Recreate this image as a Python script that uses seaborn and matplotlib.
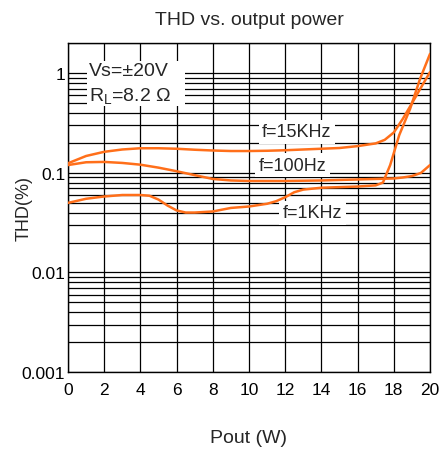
import matplotlib
matplotlib.use("Agg")
import matplotlib.pyplot as plt
from matplotlib.patches import Rectangle
from matplotlib.ticker import LogLocator, FixedLocator, NullFormatter, FixedFormatter
import seaborn as sns
import pandas as pd

# ---- data ----
p_15k = [0, 1, 2, 3, 4, 5, 6, 7, 8, 9, 10, 11, 12, 13, 14, 15, 16, 17, 17.5, 18, 18.5, 19, 19.5, 20]
thd_15k = [0.125, 0.148, 0.163, 0.172, 0.177, 0.177, 0.175, 0.171, 0.168, 0.166, 0.166, 0.167,
           0.169, 0.172, 0.175, 0.178, 0.186, 0.198, 0.215, 0.255, 0.35, 0.5, 0.72, 1.03]

p_100 = [0, 1, 2, 3, 4, 5, 6, 7, 8, 9, 10, 12, 14, 16, 17, 18, 18.5, 19, 19.5, 20]
thd_100 = [0.12, 0.128, 0.129, 0.126, 0.121, 0.113, 0.104, 0.095, 0.087, 0.084, 0.083, 0.083,
           0.084, 0.086, 0.087, 0.088, 0.09, 0.093, 0.1, 0.12]

p_1k = [0, 1, 2, 3, 4, 4.5, 5, 5.5, 6, 6.5, 7, 8, 9, 10, 11, 11.5, 12, 12.5, 13, 14, 15, 16,
        17, 17.4, 17.8, 18.3, 18.9, 19.45, 20]
thd_1k = [0.05, 0.055, 0.058, 0.06, 0.06, 0.059, 0.054, 0.047, 0.042, 0.040, 0.040, 0.041,
          0.0445, 0.046, 0.049, 0.052, 0.057, 0.064, 0.068, 0.071, 0.072, 0.073, 0.075, 0.08,
          0.12, 0.24, 0.44, 0.88, 1.57]

x_ticks = [0, 2, 4, 6, 8, 10, 12, 14, 16, 18, 20]
y_ticks = [0.001, 0.01, 0.1, 1]
y_tick_labels = ["0.001", "0.01", "0.1", "1"]

title = "THD vs. output power"
x_label = "Pout (W)"
y_label = "THD(%)"

df = pd.concat([
    pd.DataFrame({"P": p_15k, "THD": thd_15k, "f": "15KHz"}),
    pd.DataFrame({"P": p_100, "THD": thd_100, "f": "100Hz"}),
    pd.DataFrame({"P": p_1k, "THD": thd_1k, "f": "1KHz"}),
], ignore_index=True)

sns.set_style("white")
plt.rcParams["font.family"] = ["Liberation Sans", "DejaVu Sans"]

fig = plt.figure(figsize=(4.43, 4.52), dpi=100)
ax = fig.add_axes([68 / 443, 1 - 373 / 452, (430 - 68) / 443, (373 - 44) / 452])

orange = "#ff6f1a"
sns.lineplot(data=df, x="P", y="THD", hue="f", palette=[orange] * 3, estimator=None,
             sort=False, legend=False, linewidth=1.8, ax=ax, zorder=5)

ax.set_yscale("log")
ax.set_xlim(0, 20)
ax.set_ylim(0.001, 2.02)

ax.xaxis.set_major_locator(FixedLocator(x_ticks))
ax.yaxis.set_major_locator(FixedLocator(y_ticks))
ax.yaxis.set_major_formatter(FixedFormatter(y_tick_labels))
ax.yaxis.set_minor_locator(LogLocator(base=10, subs=range(2, 10)))
ax.yaxis.set_minor_formatter(NullFormatter())

ax.grid(True, which="major", axis="both", color="black", linewidth=0.9)
ax.grid(True, which="minor", axis="y", color="black", linewidth=0.9)
ax.set_axisbelow(True)
for s in ax.spines.values():
    s.set_color("black")
    s.set_linewidth(1.0)

ax.tick_params(axis="both", which="both", length=0, labelsize=12.5, colors="black")
ax.tick_params(axis="x", pad=7)
ax.tick_params(axis="y", pad=2)

ax.set_title(title, fontsize=14, pad=14)
ax.set_xlabel(x_label, fontsize=14, labelpad=23)
ax.set_ylabel(y_label, fontsize=13)
ax.yaxis.set_label_coords(-0.099, 0.5)

# white panel behind the condition text
ax.add_patch(Rectangle((0.052, 0.8085), 0.271, 0.137, transform=ax.transAxes,
                       facecolor="white", edgecolor="none", zorder=5.5))
ax.text(1.16, 1.08, "Vs=\u00b120V", fontsize=14, ha="left", va="center", zorder=6)
ax.text(1.16, 0.6, "R$_\\mathregular{L}$=8.2 \u03a9", fontsize=14, ha="left", va="center",
        zorder=6)

box = dict(facecolor="white", edgecolor="none", pad=2.5)
ax.text(12.65, 0.258, "f=15KHz", fontsize=13, ha="center", va="center", zorder=6, bbox=box)
ax.text(12.4, 0.12, "f=100Hz", fontsize=13, ha="center", va="center", zorder=6, bbox=box)
ax.text(13.5, 0.0397, "f=1KHz", fontsize=13, ha="center", va="center", zorder=6, bbox=box)

fig.savefig("out.png", dpi=100)
